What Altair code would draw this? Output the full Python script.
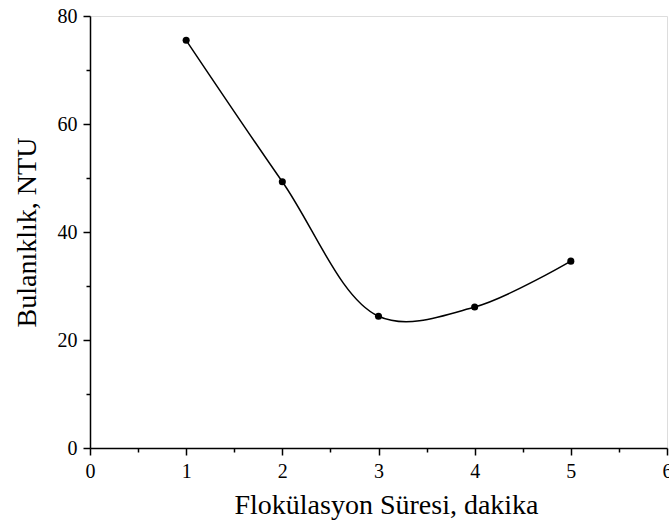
import altair as alt
import pandas as pd

x_vals = [1, 2, 3, 4, 5]
y_vals = [75.5, 49.3, 24.4, 26.1, 34.6]

x_major = [0, 1, 2, 3, 4, 5, 6]
x_minor = [0.5, 1.5, 2.5, 3.5, 4.5, 5.5]
y_major = [0, 20, 40, 60, 80]
y_minor = [10, 30, 50, 70]

df = pd.DataFrame({"x": x_vals, "y": y_vals})

FONT = "Liberation Serif"

x_axis = alt.Axis(
    values=x_major, format="d", labelFlush=False, labelOverlap=False,
    tickSize=7, tickColor="black", tickWidth=1.5,
    domainColor="black", domainWidth=1.5,
    labelFont=FONT, labelFontSize=20, labelColor="black", labelPadding=6,
    title="Flokülasyon Süresi, dakika",
    titleFont=FONT, titleFontSize=28, titleFontWeight="normal", titleColor="black",
    titlePadding=10, titleX=296, grid=False, orient="bottom",
)
y_axis = alt.Axis(
    values=y_major, format="d", labelFlush=False, labelOverlap=False,
    tickSize=7, tickColor="black", tickWidth=1.5,
    domainColor="black", domainWidth=1.5,
    labelFont=FONT, labelFontSize=20, labelColor="black", labelPadding=6,
    title="Bulanıklık, NTU",
    titleFont=FONT, titleFontSize=28, titleFontWeight="normal", titleColor="black",
    titlePadding=16, grid=False, orient="left",
)
x_minor_axis = alt.Axis(
    values=x_minor, tickSize=4, tickColor="black", tickWidth=1.5,
    labels=False, domain=False, title=None, grid=False, orient="bottom",
)
y_minor_axis = alt.Axis(
    values=y_minor, tickSize=4, tickColor="black", tickWidth=1.5,
    labels=False, domain=False, title=None, grid=False, orient="left",
)

xs = alt.Scale(domain=[0, 6], nice=False, zero=False)
ys = alt.Scale(domain=[0, 80], nice=False)

line = alt.Chart(df).mark_line(color="black", strokeWidth=1.5, interpolate="catmull-rom").encode(
    x=alt.X("x:Q", scale=xs, axis=x_axis), y=alt.Y("y:Q", scale=ys, axis=y_axis)
)
pts = alt.Chart(df).mark_circle(color="black", size=50, opacity=1).encode(
    x=alt.X("x:Q", scale=xs, axis=x_minor_axis), y=alt.Y("y:Q", scale=ys, axis=y_minor_axis)
)

chart = alt.layer(line, pts).resolve_axis(x="independent", y="independent").properties(
    width=577, height=432,
    autosize=alt.AutoSizeParams(type="none"),
    padding={"left": 90, "top": 16, "right": 2, "bottom": 75},
).configure_view(stroke="black", strokeWidth=1.5).configure(background="white")

chart.save("out.html", embed_options={"renderer": "svg", "actions": False})
